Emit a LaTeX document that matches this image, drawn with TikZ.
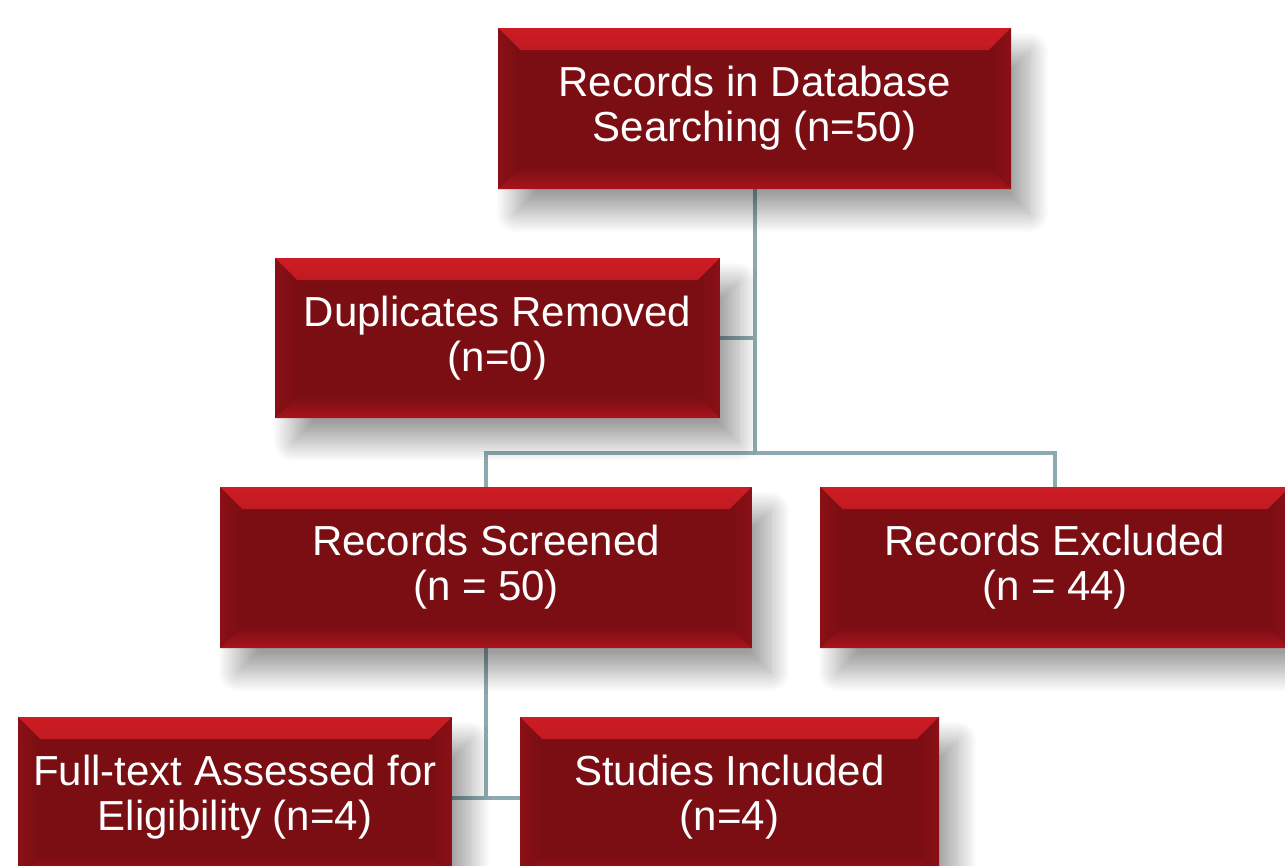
\documentclass[tikz,border=0pt]{standalone}
\usepackage{fontspec}
\setmainfont{Liberation Sans}
\usetikzlibrary{shadows.blur}
\pgfdeclarelayer{background}
\pgfsetlayers{background,main}

\definecolor{boxred}{RGB}{122,14,19}
\definecolor{bevtop}{RGB}{205,28,36}
\definecolor{bevbot}{RGB}{168,20,28}
\definecolor{bevside}{RGB}{138,16,22}
\definecolor{linkgray}{RGB}{140,170,175}

\tikzset{
  flowbox/.style={
    fill=boxred, draw=none, text=white, align=center,
    minimum height=161pt, inner sep=0pt,
    font=\fontsize{42}{45}\selectfont,
    blur shadow={shadow xshift=18pt, shadow yshift=-24pt,
                 shadow blur radius=20pt, shadow blur steps=30,
                 shadow opacity=38},
    path picture={
      \def\bev{22pt}
      % top bevel
      \shade[top color=bevtop, bottom color=boxred]
        (path picture bounding box.north west) -- (path picture bounding box.north east)
        -- ([xshift=-\bev,yshift=-\bev]path picture bounding box.north east)
        -- ([xshift=\bev,yshift=-\bev]path picture bounding box.north west) -- cycle;
      % bottom bevel
      \shade[top color=boxred, bottom color=bevbot]
        (path picture bounding box.south west) -- (path picture bounding box.south east)
        -- ([xshift=-\bev,yshift=\bev]path picture bounding box.south east)
        -- ([xshift=\bev,yshift=\bev]path picture bounding box.south west) -- cycle;
      % side bevels
      \shade[left color=bevside, right color=boxred]
        (path picture bounding box.north west) -- ([xshift=\bev,yshift=-\bev]path picture bounding box.north west)
        -- ([xshift=\bev,yshift=\bev]path picture bounding box.south west)
        -- (path picture bounding box.south west) -- cycle;
      \shade[left color=boxred, right color=bevside]
        (path picture bounding box.north east) -- ([xshift=-\bev,yshift=-\bev]path picture bounding box.north east)
        -- ([xshift=-\bev,yshift=\bev]path picture bounding box.south east)
        -- (path picture bounding box.south east) -- cycle;
    }},
  link/.style={draw=linkgray, line width=4pt}
}

\begin{document}
\begin{tikzpicture}[x=1pt, y=-1pt]
    % --- page frame ---
    \useasboundingbox (0,0) rectangle (1285,865);

    % --- boxes ---
    \node[flowbox, minimum width=513pt] (search) at (754.5,108.5) {Records in Database\\Searching (n=50)};
    \node[flowbox, minimum width=445pt, minimum height=160pt] (dupl) at (497.5,338) {Duplicates Removed\\(n=0)};
    \node[flowbox, minimum width=532pt] (screen) at (486,567.5) {Records Screened\\(n = 50)};
    \node[flowbox, minimum width=470pt] (exclude) at (1055,567.5) {Records Excluded\\(n = 44)};
    \node[flowbox, minimum width=434pt] (fulltext) at (235,797.5) {Full-text Assessed for\\Eligibility (n=4)};
    \node[flowbox, minimum width=419pt] (include) at (729.5,797.5) {Studies Included\\(n=4)};

    % --- connectors ---
    \coordinate (split) at (754.5,453);
    \begin{pgfonlayer}{background}
        \draw[link] (search.south) -- (split);
        \draw[link] (dupl.east) -- (dupl.east -| split);
        \draw[link] (screen.north) |- (split) -| (exclude.north);
        \draw[link] (screen.south) -- (screen.south |- fulltext.east);
        \draw[link] (fulltext.east) -- (include.west);
    \end{pgfonlayer}
\end{tikzpicture}
\end{document}
